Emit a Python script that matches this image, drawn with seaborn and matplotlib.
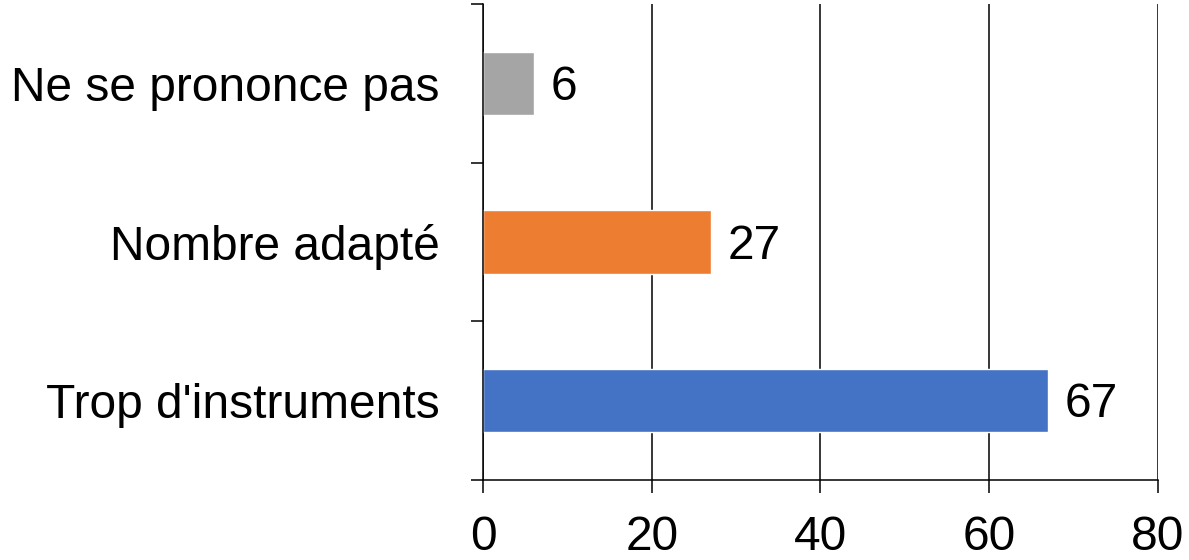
import matplotlib
matplotlib.use("Agg")
import matplotlib.pyplot as plt
import seaborn as sns
import pandas as pd

categories = ["Ne se prononce pas", "Nombre adapté", "Trop d'instruments"]
values = [6, 27, 67]
colors = ["#A5A5A5", "#ED7D31", "#4472C4"]
x_ticks = [0, 20, 40, 60, 80]

sns.set_theme(style="white")
plt.rcParams["font.family"] = ["Liberation Sans", "DejaVu Sans"]

df = pd.DataFrame({"categorie": categories, "valeur": values})

fig = plt.figure(figsize=(11.89, 5.6), dpi=100)
ax = fig.add_axes([0.4062, 0.1429, 0.9739 - 0.4062, 0.9929 - 0.1429])

sns.barplot(data=df, x="valeur", y="categorie", hue="categorie",
            palette=colors, order=categories, hue_order=categories,
            width=0.4, legend=False, ax=ax, saturation=1)

fs = 34.5
lw = 1.1
ax.set_xlim(0, 80)
ax.set_ylim(2.5, -0.5)
ax.set_xticks(x_ticks)
ax.set_xticklabels([str(t) for t in x_ticks])
ax.set_yticks(range(len(categories)))
ax.set_yticklabels(categories)
ax.set_yticks([-0.5, 0.5, 1.5, 2.5], minor=True)

ax.grid(axis="x", color="black", linewidth=lw)
ax.grid(axis="y", visible=False)
ax.set_axisbelow(True)

for side in ["top", "right"]:
    ax.spines[side].set_visible(False)
for side in ["left", "bottom"]:
    ax.spines[side].set_color("black")
    ax.spines[side].set_linewidth(lw)

ax.tick_params(axis="x", which="major", length=9.4, width=lw, color="black",
               direction="out", bottom=True, labelsize=fs, pad=16, labelcolor="black")
ax.tick_params(axis="y", which="major", length=0, labelsize=fs, pad=31, labelcolor="black")
ax.tick_params(axis="y", which="minor", length=9, width=lw, color="black",
               direction="out", left=True)

ax.set_xlabel("")
ax.set_ylabel("")

for i, v in enumerate(values):
    ax.annotate(str(v), xy=(v, i), xytext=(12, -3), textcoords="offset points",
                va="center", ha="left", fontsize=fs, color="black")

fig.savefig("out.png", dpi=100)
